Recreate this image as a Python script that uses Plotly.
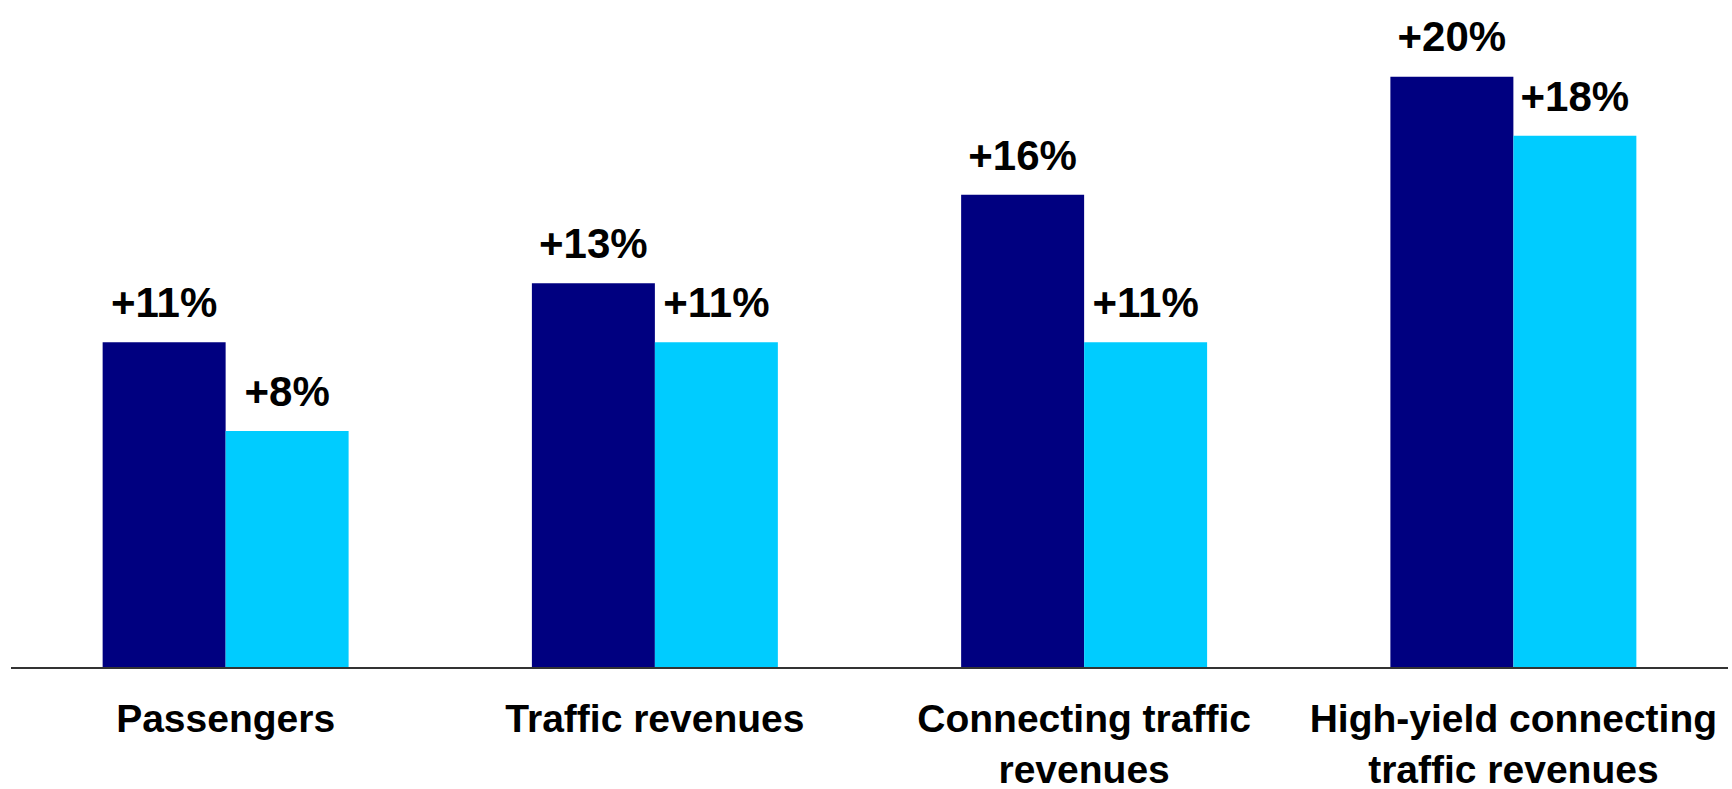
import plotly.graph_objects as go

categories = ["Passengers", "Traffic revenues", "Connecting traffic<br>revenues",
              "High-yield connecting<br>traffic revenues"]
series_a = [11, 13, 16, 20]
series_b = [8, 11, 11, 18]
labels_a = ["+11%", "+13%", "+16%", "+20%"]
labels_b = ["+8%", "+11%", "+11%", "+18%"]

FONT = "Liberation Sans, Arial, sans-serif"
COLORS = ["#000080", "#00CCFF"]

fig = go.Figure()
for i, (vals, labs) in enumerate([(series_a, labels_a), (series_b, labels_b)]):
    grp = f"g{i}"
    fig.add_trace(go.Bar(x=categories, y=vals, marker_color=COLORS[i],
                         marker_line_width=0, offsetgroup=grp, alignmentgroup="all",
                         hoverinfo="skip"))
    # value labels sit above each bar; the transparent marker adds headroom
    fig.add_trace(go.Scatter(x=categories, y=vals, text=labs, mode="markers+text",
                             textposition="top center", offsetgroup=grp,
                             alignmentgroup="all", cliponaxis=False,
                             marker=dict(size=22, opacity=0),
                             textfont=dict(family=FONT, size=42, color="black",
                                           weight="bold")))

fig.update_layout(
    width=1732, height=789,
    margin=dict(l=11, r=4, t=0, b=122),
    barmode="group", bargap=0.427, bargroupgap=0,
    scattermode="group", scattergap=0.427,
    showlegend=False,
    plot_bgcolor="white", paper_bgcolor="white",
    font=dict(family=FONT, size=39, color="black", weight="bold"),
)
fig.update_xaxes(showline=True, linecolor="#333333", linewidth=2, ticks="",
                 showgrid=False, ticklabelstandoff=16, automargin=False,
                 tickfont=dict(family=FONT, size=39, color="black", weight="bold"))
fig.update_yaxes(range=[0, 22.6], visible=False, showgrid=False, zeroline=False)

fig.write_html("out.html")
